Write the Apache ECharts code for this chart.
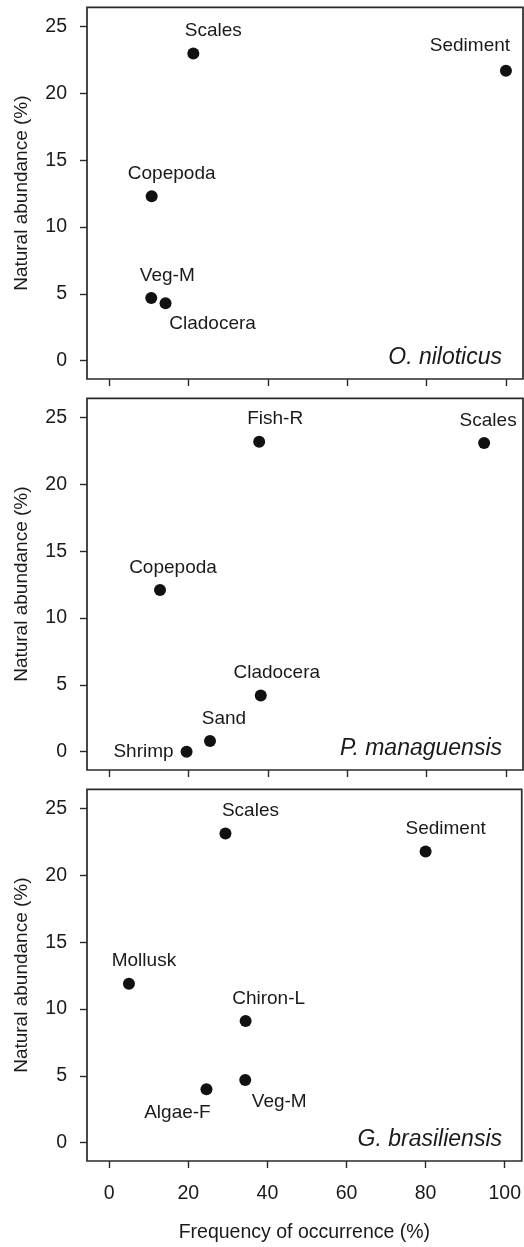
<!DOCTYPE html>
<html>
<head>
<meta charset="utf-8">
<script src="https://cdn.jsdelivr.net/npm/echarts@6/dist/echarts.min.js"></script>
<style>
html,body{margin:0;padding:0;background:#fff;}
#c{width:524px;height:1247px;}
</style>
</head>
<body>
<div id="c"></div>
<script>
// ---- data ----
const xTicks = [0, 20, 40, 60, 80, 100];
const yTicks = [0, 5, 10, 15, 20, 25];
const species = ['O. niloticus', 'P. managuensis', 'G. brasiliensis'];

const p1Items = ['Scales', 'Sediment', 'Copepoda', 'Veg-M', 'Cladocera'];
const p1Freq  = [21.2, 100, 10.7, 10.6, 14.2];
const p1Abund = [23.0, 21.7, 12.3, 4.7, 4.3];

const p2Items = ['Fish-R', 'Scales', 'Copepoda', 'Cladocera', 'Sand', 'Shrimp'];
const p2Freq  = [37.8, 94.5, 12.8, 38.2, 25.4, 19.5];
const p2Abund = [23.2, 23.1, 12.1, 4.2, 0.8, 0];

const p3Items = ['Scales', 'Sediment', 'Mollusk', 'Chiron-L', 'Veg-M', 'Algae-F'];
const p3Freq  = [29.4, 80, 5.0, 34.5, 34.4, 24.6];
const p3Abund = [23.15, 21.8, 11.9, 9.1, 4.7, 4.0];

const xTitle = 'Frequency of occurrence (%)';
const yTitle = 'Natural abundance (%)';

// ---- label placement (style, not data) ----
const labelPlace = [
  [['top', 20, 0], ['top', -36, -2], ['top', 20, 0], ['top', 16, 0], ['bottom', 47, -2]],
  [['top', 16, 0], ['top', 4, 0], ['top', 13, 0], ['top', 16, 0], ['top', 14, 0], ['left', 0, 0]],
  [['top', 25, 0], ['top', 20, 0], ['top', 15, 0], ['top', 23, 0], ['bottom', 34, -1], ['bottom', -29, 1]]
];

const FONT = '"Liberation Sans", Arial, Helvetica, sans-serif';
const TXT = '#1a1a1a';
const panels = [
  {items: p1Items, fx: p1Freq, ab: p1Abund},
  {items: p2Items, fx: p2Freq, ab: p2Abund},
  {items: p3Items, fx: p3Freq, ab: p3Abund}
];
const tops = [7.3, 398.3, 789.3];
const H = 371.7;

const grid = [], xAxis = [], yAxis = [], series = [], title = [];
panels.forEach((p, i) => {
  grid.push({left: 87, width: 436, top: tops[i], height: H, show: true,
    borderColor: '#2a2a2a', borderWidth: 1.7, backgroundColor: 'transparent'});
  xAxis.push({type: 'value', gridIndex: i, min: -5.6, max: 104.3, position: 'bottom',
    axisLine: {show: false, onZero: false}, splitLine: {show: false},
    axisTick: {show: true, inside: false, length: 7, customValues: xTicks, lineStyle: {color: '#2a2a2a', width: 1.4}},
    axisLabel: {show: i === 2, customValues: xTicks, margin: 23, fontSize: 19.5, fontFamily: FONT, color: TXT},
    name: i === 2 ? xTitle : '', nameLocation: 'middle', nameGap: 62,
    nameTextStyle: {fontSize: 19.5, fontFamily: FONT, color: TXT}
  });
  yAxis.push({type: 'value', gridIndex: i, min: -1.37, max: 26.45, position: 'left',
    axisLine: {show: false, onZero: false}, splitLine: {show: false},
    axisTick: {show: true, inside: false, length: 7, customValues: yTicks, lineStyle: {color: '#2a2a2a', width: 1.4}},
    axisLabel: {customValues: yTicks, margin: 20, fontSize: 19.5, fontFamily: FONT, color: TXT},
    name: yTitle, nameLocation: 'middle', nameGap: 56,
    nameTextStyle: {fontSize: 19, fontFamily: FONT, color: TXT}
  });
  series.push({type: 'scatter', xAxisIndex: i, yAxisIndex: i, symbolSize: 12,
    itemStyle: {color: '#111', opacity: 1},
    label: {show: true, formatter: '{b}', fontSize: 19, fontFamily: FONT, color: TXT, distance: 7},
    data: p.items.map((n, k) => {
      const lp = labelPlace[i][k];
      return {name: n, value: [p.fx[k], p.ab[k]],
        label: {position: lp[0], offset: [lp[1], lp[2]]}};
    })
  });
  title.push({text: species[i], right: 17, top: tops[i] + H - 38,
    textStyle: {fontSize: 23, fontStyle: 'italic', fontWeight: 'normal', fontFamily: FONT, color: TXT}});
});

const chart = echarts.init(document.getElementById('c'), null, {renderer: 'canvas'});
chart.setOption({animation: false, title, grid, xAxis, yAxis, series});
</script>
</body>
</html>
